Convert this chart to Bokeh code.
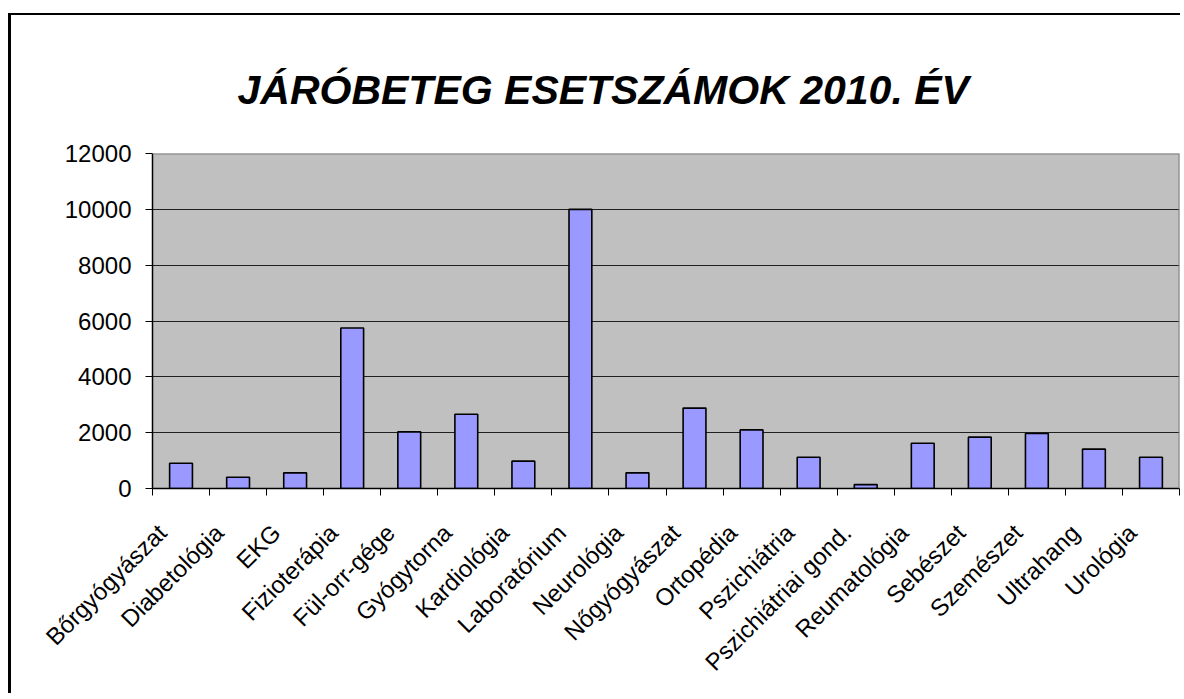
import math
from bokeh.plotting import figure
from bokeh.models import (Range1d, LinearAxis, FixedTicker, ColumnDataSource,
                          CustomJSTickFormatter, Span)
from bokeh.embed import file_html
from bokeh.resources import INLINE

# ---- data ----
categories = ["Bőrgyógyászat", "Diabetológia", "EKG", "Fizioterápia", "Fül-orr-gége",
              "Gyógytorna", "Kardiológia", "Laboratórium", "Neurológia", "Nőgyógyászat",
              "Ortopédia", "Pszichiátria", "Pszichiátriai gond.", "Reumatológia",
              "Sebészet", "Szemészet", "Ultrahang", "Urológia"]
values = [905, 405, 560, 5750, 2030, 2660, 980, 10000, 560, 2880,
          2100, 1120, 140, 1620, 1840, 1970, 1410, 1120]
y_ticks = [0, 2000, 4000, 6000, 8000, 10000, 12000]
title_text = "JÁRÓBETEG ESETSZÁMOK 2010. ÉV"

FONT = "Liberation Sans"

n = len(categories)
centers = [i + 0.5 for i in range(n)]
bounds = list(range(n + 1))
label_pos = [i + 0.17 for i in range(n)]   # rotated labels end slightly left of centre

src = ColumnDataSource(dict(x=centers, val=values, cat=categories))

p = figure(x_range=Range1d(0, n), y_range=Range1d(0, 12000),
           width=1172, height=680, output_backend="svg", toolbar_location=None,
           x_axis_location=None, y_axis_location=None,
           min_border_left=141, min_border_right=4, min_border_top=138,
           min_border_bottom=207)

p.background_fill_color = "#C0C0C0"
p.border_fill_color = "white"
p.outline_line_color = None

p.vbar(x="x", top="val", width=0.4, source=src, fill_color="#9999FF",
       line_color="black", line_width=1.6)

# gray top / right edges of the plot area
p.add_layout(Span(location=12000, dimension="width", line_color="#808080", line_width=2))
p.add_layout(Span(location=n, dimension="height", line_color="#808080", line_width=2))

# y axis
yax = LinearAxis(ticker=FixedTicker(ticks=y_ticks))
yax.major_label_text_font = FONT
yax.major_label_text_font_size = "24px"
yax.major_label_text_color = "black"
yax.major_tick_out = 7
yax.major_tick_in = 0
yax.minor_tick_line_color = None
yax.axis_line_color = "black"
yax.axis_line_width = 1.5
yax.major_tick_line_color = "black"
yax.major_label_standoff = 14
p.add_layout(yax, "left")

# x axis: labels near category centres, ticks at category boundaries
xax = LinearAxis(ticker=FixedTicker(ticks=label_pos, minor_ticks=bounds),
                 formatter=CustomJSTickFormatter(args=dict(labels=categories),
                                                 code="return labels[Math.floor(tick)];"))
xax.axis_line_color = "black"
xax.axis_line_width = 1.5
xax.major_tick_line_color = None
xax.major_tick_out = 0
xax.major_tick_in = 0
xax.minor_tick_line_color = "black"
xax.minor_tick_out = 7
xax.minor_tick_in = 0
xax.major_label_orientation = math.pi / 4
xax.major_label_text_font = FONT
xax.major_label_text_font_size = "24px"
xax.major_label_text_color = "black"
xax.major_label_standoff = 33
p.add_layout(xax, "below")

p.xgrid.visible = False
p.ygrid.ticker = FixedTicker(ticks=[2000, 4000, 6000, 8000, 10000])
p.ygrid.grid_line_color = "#202020"
p.ygrid.grid_line_width = 1

p.title.text = title_text
p.title.text_font = FONT
p.title.text_font_size = "41px"
p.title.text_font_style = "bold italic"
p.title.align = "left"
p.title.offset = 85
p.title.standoff = 81
p.title.text_color = "black"

p.margin = (15, 0, 0, 11)
p.styles = {"box-shadow": "-3px -2px 0 0 black"}

open("out.html", "w").write(file_html(p, INLINE))
